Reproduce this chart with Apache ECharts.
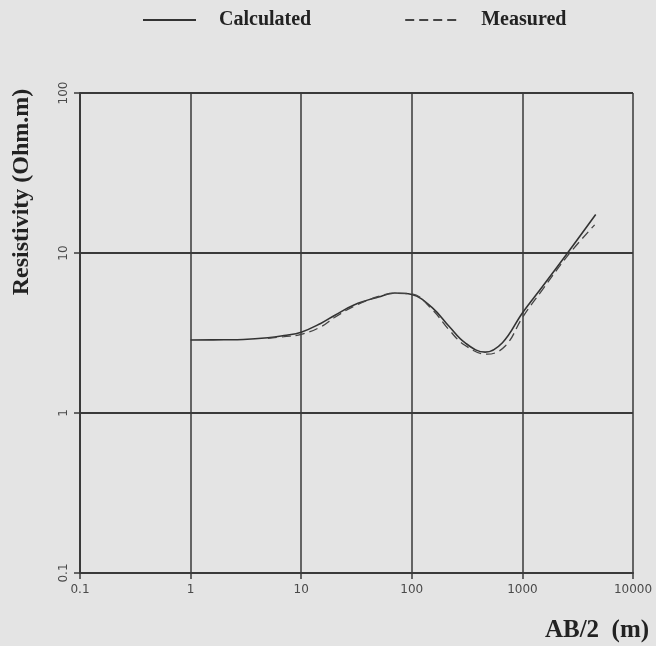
<!DOCTYPE html>
<html>
<head>
<meta charset="utf-8">
<script src="https://cdn.jsdelivr.net/npm/echarts@6/dist/echarts.min.js"></script>
<style>
  html, body { margin: 0; padding: 0; background: #e4e4e4; }
  #chart { width: 656px; height: 646px; }
</style>
</head>
<body>
<div id="chart"></div>
<script>
// AB/2 (m) and apparent resistivity (Ohm.m)
var calcAB  = [1, 2, 3, 5, 7, 10, 15, 20, 30, 50, 70, 100, 152, 218, 302, 460, 660, 1000, 1520, 2560, 4600];
var calcRho = [2.86, 2.87, 2.88, 2.95, 3.05, 3.2, 3.63, 4.07, 4.73, 5.31, 5.62, 5.5, 4.57, 3.47, 2.75, 2.4, 2.75, 4.22, 6.17, 10.0, 17.4];

var measAB  = [5, 7, 10, 15, 20, 30, 50, 70, 100, 152, 218, 302, 480, 700, 1000, 1520, 2560, 4500];
var measRho = [2.93, 3.0, 3.1, 3.45, 3.95, 4.65, 5.35, 5.6, 5.55, 4.45, 3.3, 2.65, 2.33, 2.62, 3.95, 5.9, 9.6, 15.0];

var xTicks = ['0.1', '1', '10', '100', '1000', '10000'];
var yTicks = ['0.1', '1', '10', '100'];

function pairs(xs, ys) {
  return xs.map(function (x, i) { return [x, ys[i]]; });
}

var chart = echarts.init(document.getElementById('chart'));
var ink = '#3a3a3a';
var tickFont = { color: '#4a4a4a', fontFamily: 'DejaVu Sans', fontSize: 12 };
var serifBold = { color: '#222', fontFamily: 'Liberation Serif', fontWeight: 'bold' };

chart.setOption({
  backgroundColor: '#e4e4e4',
  animation: false,
  legend: {
    top: 5,
    left: 137,
    itemWidth: 53,
    itemHeight: 14,
    itemGap: 93,
    data: ['Calculated', 'Measured'],
    itemStyle: { opacity: 0 },
    textStyle: Object.assign({ fontSize: 20, padding: [0, 0, 0, 18] }, serifBold)
  },
  grid: { left: 80, right: 23, top: 93, bottom: 73 },
  xAxis: {
    type: 'log',
    logBase: 10,
    min: 0.1,
    max: 10000,
    name: 'AB/2  (m)',
    nameLocation: 'end',
    nameGap: 0,
    nameTextStyle: Object.assign({
      fontSize: 25,
      align: 'center',
      verticalAlign: 'top',
      padding: [45, 72, 0, 0]
    }, serifBold),
    axisLine: { show: true, lineStyle: { color: ink, width: 2 } },
    axisTick: { show: true, inside: false, length: 6, lineStyle: { color: ink, width: 1.5 } },
    minorTick: { show: false },
    splitLine: { show: true, lineStyle: { color: ink, width: 1.5 } },
    axisLabel: Object.assign({
      margin: 11,
      formatter: function (v) {
        var i = Math.round(Math.log10(v)) + 1;
        return xTicks[i] !== undefined ? xTicks[i] : '';
      }
    }, tickFont)
  },
  yAxis: {
    type: 'log',
    logBase: 10,
    min: 0.1,
    max: 100,
    name: 'Resistivity (Ohm.m)',
    nameLocation: 'middle',
    nameGap: 46,
    nameRotate: 90,
    nameTextStyle: Object.assign({
      fontSize: 24,
      padding: [0, 0, 0, 282]
    }, serifBold),
    axisLine: { show: true, lineStyle: { color: ink, width: 2 } },
    axisTick: { show: true, inside: false, length: 6, lineStyle: { color: ink, width: 1.5 } },
    minorTick: { show: false },
    splitLine: { show: true, lineStyle: { color: ink, width: 2 } },
    axisLabel: Object.assign({
      rotate: 90,
      margin: 10,
      formatter: function (v) {
        var i = Math.round(Math.log10(v)) + 1;
        return yTicks[i] !== undefined ? yTicks[i] : '';
      }
    }, tickFont)
  },
  series: [
    {
      name: 'Calculated',
      type: 'line',
      smooth: 0.4,
      symbol: 'none',
      data: pairs(calcAB, calcRho),
      lineStyle: { color: '#333', width: 1.6, type: 'solid' },
      itemStyle: { color: '#333' }
    },
    {
      name: 'Measured',
      type: 'line',
      smooth: 0.4,
      symbol: 'none',
      data: pairs(measAB, measRho),
      lineStyle: { color: '#444', width: 1.3, type: [9, 5] },
      itemStyle: { color: '#444' }
    }
  ]
});
</script>
</body>
</html>
